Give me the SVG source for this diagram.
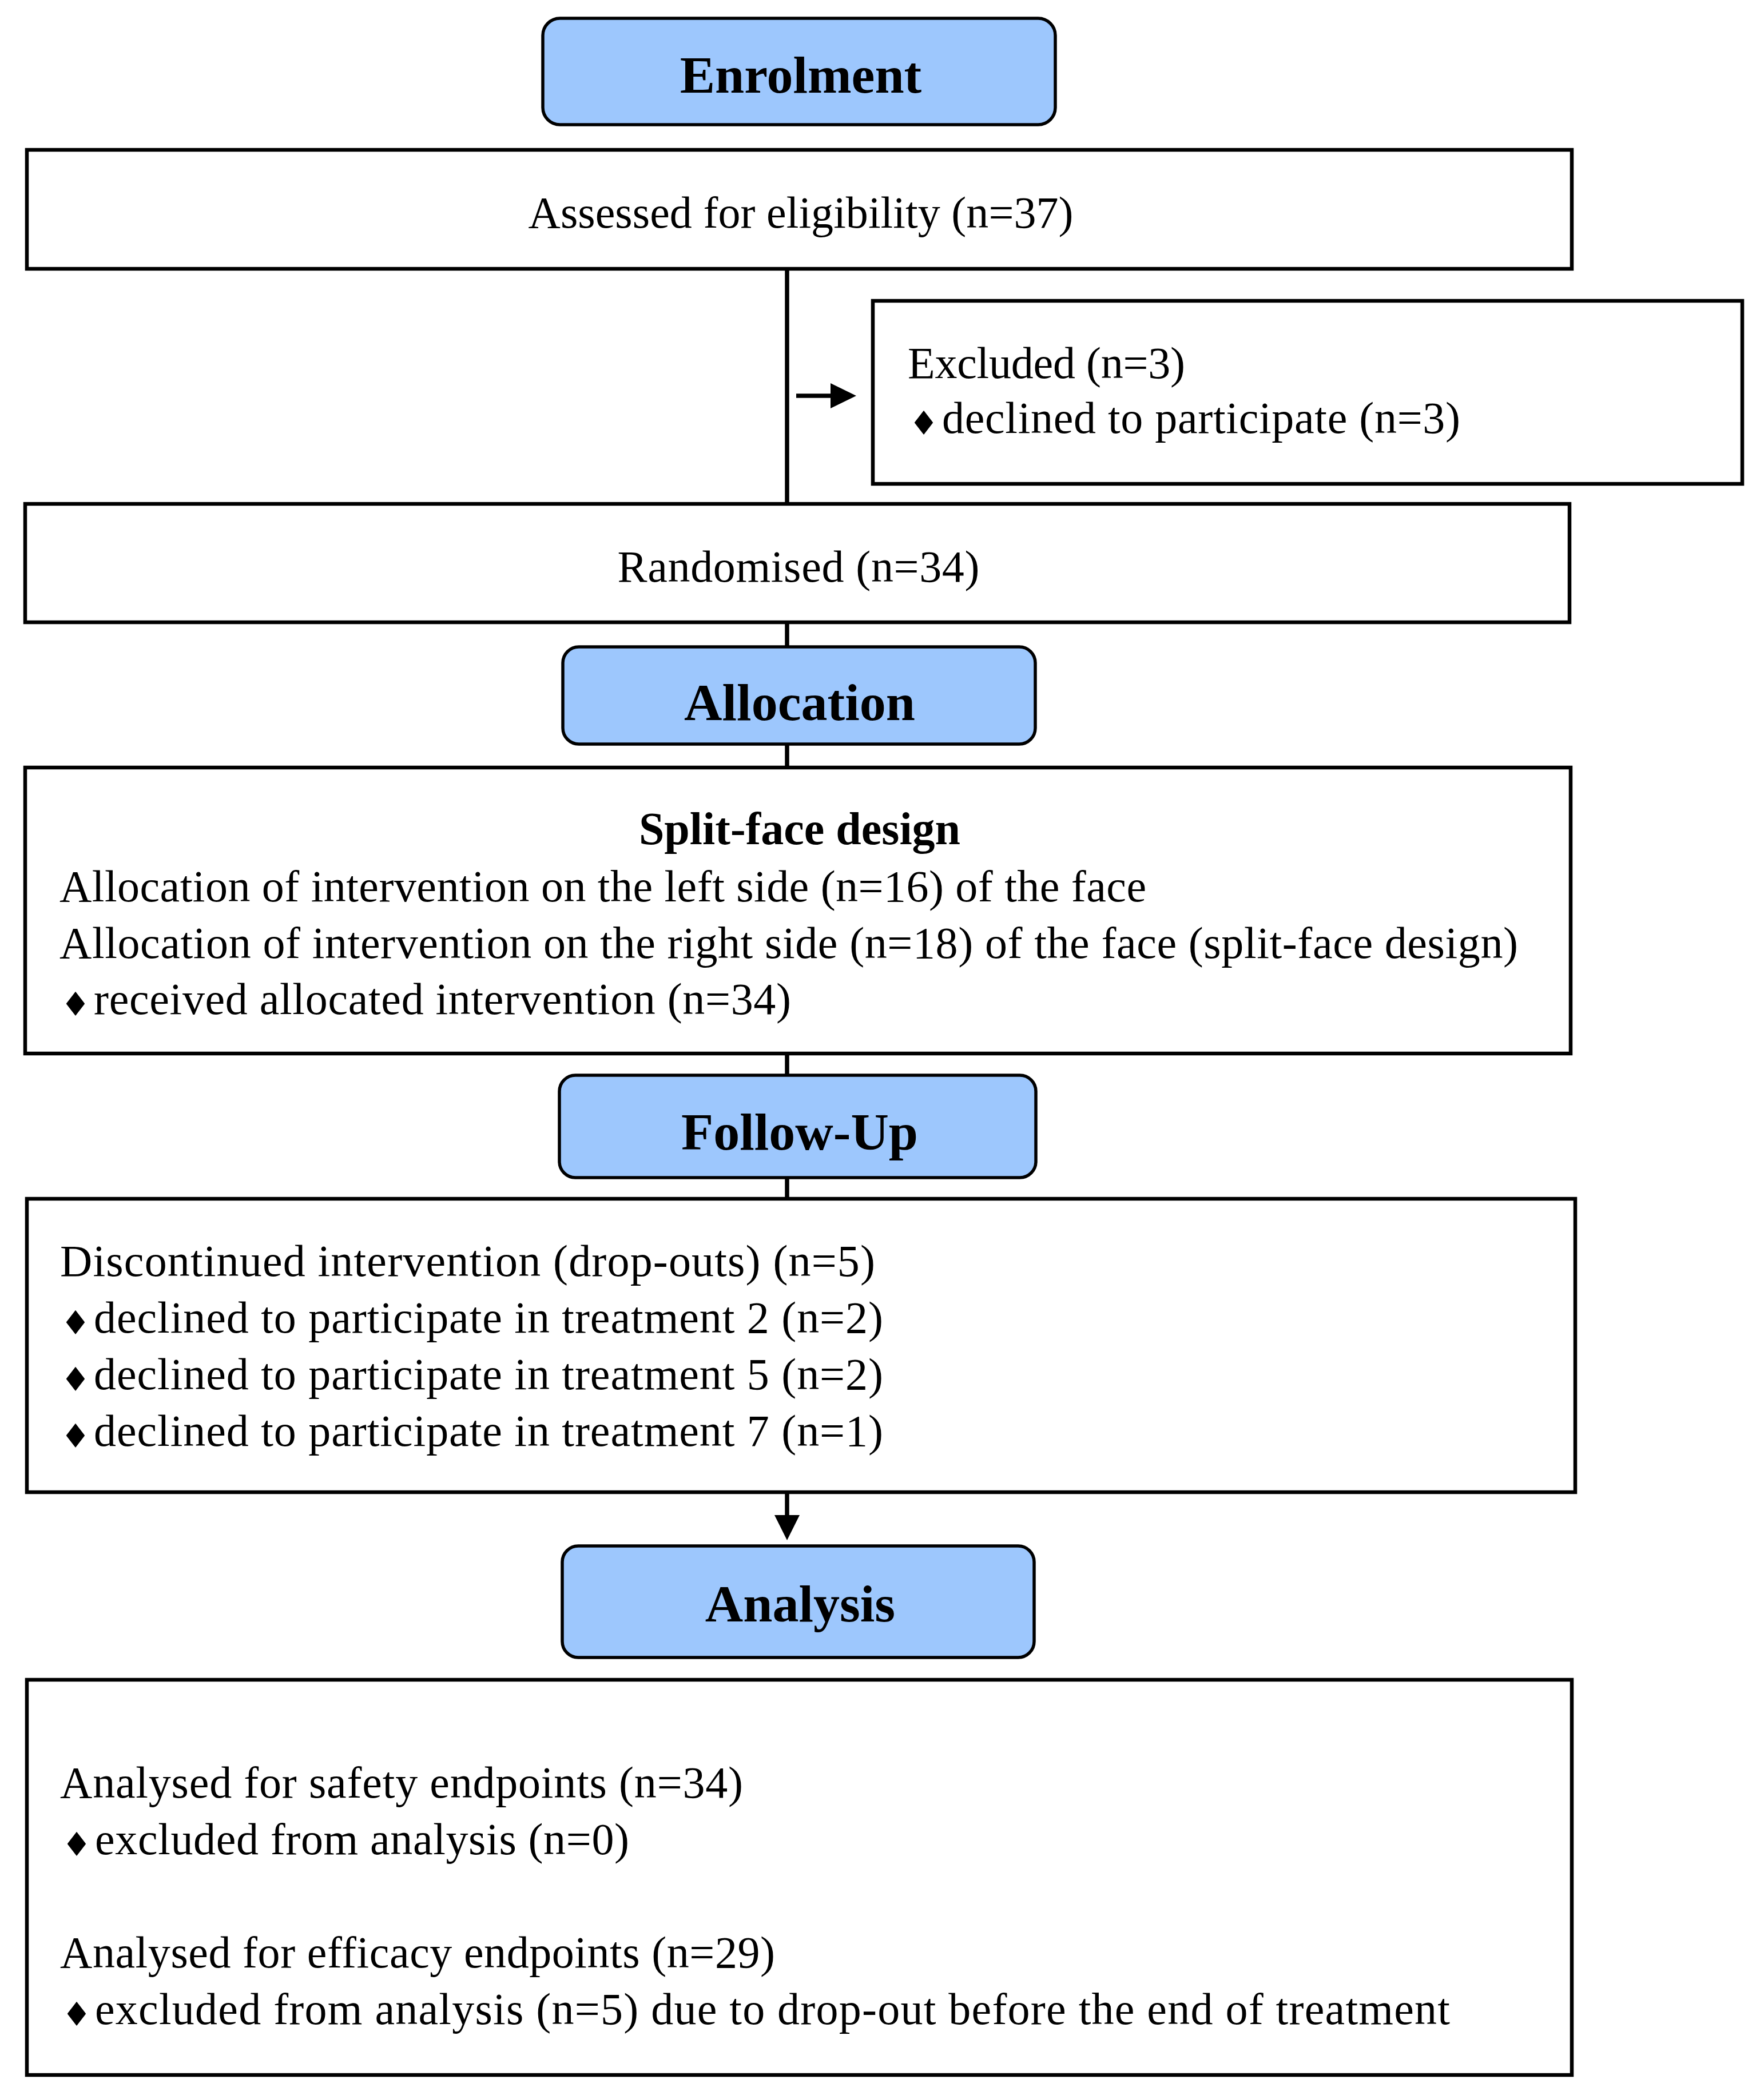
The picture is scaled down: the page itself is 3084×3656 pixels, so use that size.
<svg xmlns="http://www.w3.org/2000/svg" width="3084" height="3656" viewBox="0 0 3084 3656">
<style>
.box{fill:#ffffff;stroke:#000000;stroke-width:6.5}
.hdr{fill:#9DC7FD;stroke:#000000;stroke-width:5.5}
.t{font-family:"Liberation Serif","Times New Roman",serif;font-size:78px;fill:#000000}
.c{text-anchor:middle}
.b{font-weight:bold;font-size:80px}
.h{font-family:"Liberation Serif","Times New Roman",serif;font-size:92px;font-weight:bold;fill:#000000;text-anchor:middle}
.d{font-family:"DejaVu Sans",sans-serif;font-size:58px;fill:#000000}
.ln{stroke:#000000;stroke-width:7.5;fill:none}
</style>
<rect width="3084" height="3656" fill="#ffffff"/>
<g id="connectors">
<line class="ln" x1="1376" y1="470" x2="1376" y2="881"/>
<line class="ln" x1="1392" y1="692" x2="1455" y2="692"/>
<polygon points="1452,670 1497,692 1452,714" fill="#000"/>
<line class="ln" x1="1376" y1="1088" x2="1376" y2="1131"/>
<line class="ln" x1="1376" y1="1301" x2="1376" y2="1342"/>
<line class="ln" x1="1376" y1="1842" x2="1376" y2="1880"/>
<line class="ln" x1="1376" y1="2059" x2="1376" y2="2096"/>
<line class="ln" x1="1376" y1="2609" x2="1376" y2="2652"/>
<polygon points="1354,2649 1376,2693 1398,2649" fill="#000"/>
</g>
<g id="enrolment">
<rect class="hdr" x="949" y="32" width="896" height="186" rx="30" ry="30"/>
<text class="h" x="1400" y="162">Enrolment</text>
</g>
<g id="assessed">
<rect class="box" x="47" y="262" width="2701" height="208"/>
<text class="t c" x="1400" y="398" textLength="953" lengthAdjust="spacing">Assessed for eligibility (n=37)</text>
</g>
<g id="excluded">
<rect class="box" x="1526" y="526" width="1520" height="320"/>
<text class="t" x="1587" y="661" textLength="485" lengthAdjust="spacing">Excluded (n=3)</text>
<text class="d" x="1589" y="760">♦</text>
<text class="t" x="1647" y="757" textLength="906" lengthAdjust="spacing">declined to participate (n=3)</text>
</g>
<g id="randomised">
<rect class="box" x="44" y="881" width="2700" height="207"/>
<text class="t c" x="1396" y="1017" textLength="633" lengthAdjust="spacing">Randomised (n=34)</text>
</g>
<g id="allocation">
<rect class="hdr" x="984" y="1131" width="826" height="170" rx="28" ry="28"/>
<text class="h" x="1398" y="1259">Allocation</text>
</g>
<g id="splitface">
<rect class="box" x="44" y="1342" width="2702" height="500"/>
<text class="t c b" x="1398" y="1476">Split-face design</text>
<text class="t" x="104" y="1576" textLength="1900" lengthAdjust="spacing">Allocation of intervention on the left side (n=16) of the face</text>
<text class="t" x="104" y="1675" textLength="2550" lengthAdjust="spacing">Allocation of intervention on the right side (n=18) of the face (split-face design)</text>
<text class="d" x="106" y="1776">♦</text>
<text class="t" x="164" y="1773" textLength="1219" lengthAdjust="spacing">received allocated intervention (n=34)</text>
</g>
<g id="followup">
<rect class="hdr" x="978" y="1880" width="833" height="179" rx="28" ry="28"/>
<text class="h" x="1398" y="2010">Follow-Up</text>
</g>
<g id="discontinued">
<rect class="box" x="47" y="2096" width="2707" height="513"/>
<text class="t" x="105" y="2231" textLength="1425" lengthAdjust="spacing">Discontinued intervention (drop-outs) (n=5)</text>
<text class="d" x="106" y="2333">♦</text>
<text class="t" x="164" y="2330" textLength="1380" lengthAdjust="spacing">declined to participate in treatment 2 (n=2)</text>
<text class="d" x="106" y="2432">♦</text>
<text class="t" x="164" y="2429" textLength="1380" lengthAdjust="spacing">declined to participate in treatment 5 (n=2)</text>
<text class="d" x="106" y="2531">♦</text>
<text class="t" x="164" y="2528" textLength="1380" lengthAdjust="spacing">declined to participate in treatment 7 (n=1)</text>
</g>
<g id="analysis">
<rect class="hdr" x="983" y="2703" width="825" height="195" rx="28" ry="28"/>
<text class="h" x="1399" y="2835">Analysis</text>
</g>
<g id="analysed">
<rect class="box" x="47" y="2937" width="2701" height="691"/>
<text class="t" x="105" y="3143" textLength="1194" lengthAdjust="spacing">Analysed for safety endpoints (n=34)</text>
<text class="d" x="108" y="3245">♦</text>
<text class="t" x="166" y="3242" textLength="934" lengthAdjust="spacing">excluded from analysis (n=0)</text>
<text class="t" x="105" y="3440" textLength="1250" lengthAdjust="spacing">Analysed for efficacy endpoints (n=29)</text>
<text class="d" x="108" y="3542">♦</text>
<text class="t" x="166" y="3539" textLength="2369" lengthAdjust="spacing">excluded from analysis (n=5) due to drop-out before the end of treatment</text>
</g>
</svg>
